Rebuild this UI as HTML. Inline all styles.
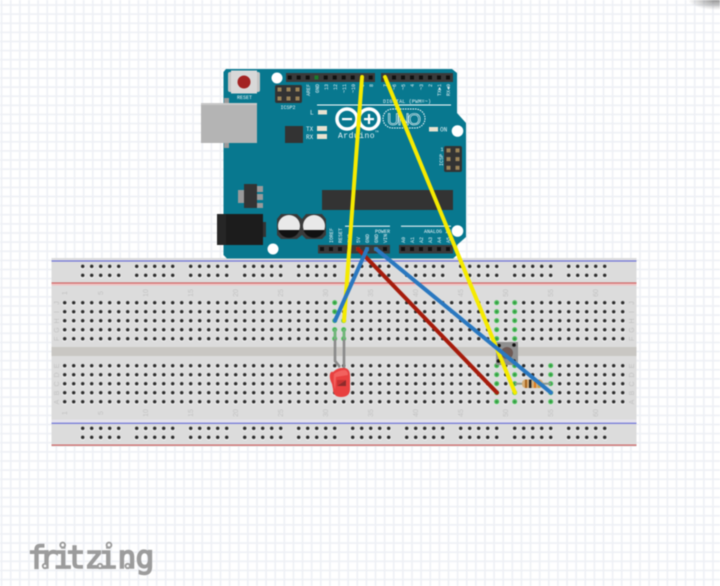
<!DOCTYPE html>
<html>
<head>
<meta charset="utf-8">
<style>
html,body{margin:0;padding:0;background:#fff;width:720px;height:586px;overflow:hidden}
svg{display:block;filter:blur(.4px)}
.p{font:5px "Liberation Mono",monospace;fill:#e8f2f5}
.l{font:6px "Liberation Mono",monospace;fill:#e8f2f5}
.n{font:7px "Liberation Sans",sans-serif;fill:#c2c2c2}
</style>
</head>
<body>
<svg width="720" height="586" viewBox="0 0 720 586" xmlns="http://www.w3.org/2000/svg">
<defs>
<pattern id="grid" patternUnits="userSpaceOnUse" x="1.6" y="5" width="9.12" height="9.12">
<rect x="-0.8" y="0" width="1.6" height="9.12" fill="#eef0f5"/>
<rect x="8.32" y="0" width="1.6" height="9.12" fill="#eef0f5"/>
<rect x="0" y="-0.8" width="9.12" height="1.6" fill="#eef0f5"/>
<rect x="0" y="8.32" width="9.12" height="1.6" fill="#eef0f5"/>
</pattern>
<pattern id="h" patternUnits="userSpaceOnUse" x="60.2" y="298.2" width="9" height="9">
<circle cx="4.5" cy="4.9" r="2.7" fill="#f1f1f1"/>
<circle cx="4.5" cy="4.5" r="1.8" fill="#2a2a2a"/>
</pattern>
<pattern id="g" patternUnits="userSpaceOnUse" x="60.2" y="298.2" width="9" height="9">
<circle cx="4.5" cy="4.5" r="2.5" fill="#46bb55"/>
<circle cx="4.5" cy="4.5" r="1" fill="#2e8a3c"/>
</pattern>
<pattern id="r" patternUnits="userSpaceOnUse" x="78.2" y="261.8" width="54" height="9">
<circle cx="4.5" cy="4.9" r="2.7" fill="#f1f1f1"/><circle cx="13.5" cy="4.9" r="2.7" fill="#f1f1f1"/><circle cx="22.5" cy="4.9" r="2.7" fill="#f1f1f1"/><circle cx="31.5" cy="4.9" r="2.7" fill="#f1f1f1"/><circle cx="40.5" cy="4.9" r="2.7" fill="#f1f1f1"/>
<circle cx="4.5" cy="4.5" r="1.8" fill="#2a2a2a"/><circle cx="13.5" cy="4.5" r="1.8" fill="#2a2a2a"/><circle cx="22.5" cy="4.5" r="1.8" fill="#2a2a2a"/><circle cx="31.5" cy="4.5" r="1.8" fill="#2a2a2a"/><circle cx="40.5" cy="4.5" r="1.8" fill="#2a2a2a"/>
</pattern>
<pattern id="pin" patternUnits="userSpaceOnUse" x="285.2" y="73" width="9" height="9">
<rect x="2.5" y="2.5" width="4" height="4" fill="#111"/>
</pattern>
<pattern id="gold" patternUnits="userSpaceOnUse" x="275" y="85" width="9" height="9">
<rect x="2.5" y="2.5" width="4" height="4" fill="#9b8458"/>
</pattern>
<pattern id="gold2" patternUnits="userSpaceOnUse" x="444" y="146" width="9" height="8.7">
<rect x="2.5" y="2.4" width="4" height="4" fill="#9b8458"/>
</pattern>
<radialGradient id="sh"><stop offset="0" stop-color="#777" stop-opacity=".8"/><stop offset="1" stop-color="#777" stop-opacity="0"/></radialGradient>
</defs>

<rect width="720" height="586" fill="#fff"/>
<rect width="720" height="586" fill="url(#grid)"/>
<ellipse cx="716" cy="0" rx="28" ry="10" fill="url(#sh)"/>

<!-- breadboard -->
<rect x="51.5" y="258" width="585" height="188.5" fill="#dcdcdc"/>
<rect x="51.5" y="283" width="585" height="2.5" fill="#eec4c4"/>
<rect x="51.5" y="419.5" width="585" height="3.5" fill="#e4e2ea"/>
<rect x="51.5" y="347" width="585" height="9" fill="#c9c7c3"/>
<rect x="51.5" y="260.4" width="585" height="1.2" fill="#6d72d8"/>
<rect x="51.5" y="282.4" width="585" height="1.2" fill="#cf6565"/>
<rect x="51.5" y="422.7" width="585" height="1.2" fill="#6d72d8"/>
<rect x="51.5" y="444.5" width="585" height="1.2" fill="#cf6565"/>

<rect x="78.2" y="261.8" width="531" height="18" fill="url(#r)"/>
<rect x="78.2" y="423.8" width="531" height="18" fill="url(#r)"/>
<rect x="60.2" y="298.2" width="567" height="45" fill="url(#h)"/>
<rect x="60.2" y="361.2" width="567" height="45" fill="url(#h)"/>

<!-- green connected holes -->
<rect x="330.2" y="298.2" width="9" height="45" fill="url(#g)"/>
<rect x="339.2" y="316.2" width="9" height="27" fill="url(#g)"/>
<rect x="492.2" y="298.2" width="9" height="45" fill="url(#g)"/>
<rect x="510.2" y="298.2" width="9" height="45" fill="url(#g)"/>
<rect x="492.2" y="361.2" width="9" height="45" fill="url(#g)"/>
<rect x="510.2" y="361.2" width="9" height="45" fill="url(#g)"/>
<rect x="546.2" y="361.2" width="9" height="45" fill="url(#g)"/>

<!-- breadboard labels -->
<g class="n" text-anchor="middle">
<text transform="translate(67,293) rotate(-90)">1</text><text transform="translate(103,293) rotate(-90)">5</text><text transform="translate(148,293) rotate(-90)">10</text><text transform="translate(193,293) rotate(-90)">15</text><text transform="translate(238,293) rotate(-90)">20</text><text transform="translate(283,293) rotate(-90)">25</text><text transform="translate(328,293) rotate(-90)">30</text><text transform="translate(373,293) rotate(-90)">35</text><text transform="translate(418,293) rotate(-90)">40</text><text transform="translate(463,293) rotate(-90)">45</text><text transform="translate(508,293) rotate(-90)">50</text><text transform="translate(553,293) rotate(-90)">55</text><text transform="translate(598,293) rotate(-90)">60</text>
<text transform="translate(67,413) rotate(-90)">1</text><text transform="translate(103,413) rotate(-90)">5</text><text transform="translate(148,413) rotate(-90)">10</text><text transform="translate(193,413) rotate(-90)">15</text><text transform="translate(238,413) rotate(-90)">20</text><text transform="translate(283,413) rotate(-90)">25</text><text transform="translate(328,413) rotate(-90)">30</text><text transform="translate(373,413) rotate(-90)">35</text><text transform="translate(418,413) rotate(-90)">40</text><text transform="translate(463,413) rotate(-90)">45</text><text transform="translate(508,413) rotate(-90)">50</text><text transform="translate(553,413) rotate(-90)">55</text><text transform="translate(598,413) rotate(-90)">60</text>
<text transform="translate(59,303) rotate(-90)">J</text><text transform="translate(59,312) rotate(-90)">I</text><text transform="translate(59,321) rotate(-90)">H</text><text transform="translate(59,330) rotate(-90)">G</text><text transform="translate(59,339) rotate(-90)">F</text>
<text transform="translate(59,366) rotate(-90)">E</text><text transform="translate(59,375) rotate(-90)">D</text><text transform="translate(59,384) rotate(-90)">C</text><text transform="translate(59,393) rotate(-90)">B</text><text transform="translate(59,402) rotate(-90)">A</text>
<text transform="translate(634,303) rotate(-90)">J</text><text transform="translate(634,312) rotate(-90)">I</text><text transform="translate(634,321) rotate(-90)">H</text><text transform="translate(634,330) rotate(-90)">G</text><text transform="translate(634,339) rotate(-90)">F</text>
<text transform="translate(634,366) rotate(-90)">E</text><text transform="translate(634,375) rotate(-90)">D</text><text transform="translate(634,384) rotate(-90)">C</text><text transform="translate(634,393) rotate(-90)">B</text><text transform="translate(634,402) rotate(-90)">A</text>
</g>

<!-- arduino -->
<path d="M226,69 L452,69 L457,73 L457,113 L466,123 L466,237 L457,245 L457,255 L453,258.5 L227,258.5 L223.5,255 L223.5,72 Z" fill="#08788f"/>
<!-- usb -->
<rect x="224" y="98" width="5" height="50" fill="#9a9a9a"/>
<rect x="201" y="103" width="56" height="40" fill="#b4b4b4"/>
<rect x="201" y="103" width="56" height="2" fill="#c8c8c8"/>
<!-- reset -->
<rect x="228" y="72" width="32" height="20" rx="2" fill="#c4c4c4"/>
<rect x="231" y="70.5" width="26" height="23" fill="#d8d8d8"/>
<circle cx="244" cy="82" r="6.5" fill="#a32222"/>
<text x="244.5" y="99" text-anchor="middle" class="p">RESET</text>
<!-- holes -->
<circle cx="277" cy="78" r="5.5" fill="#fff"/>
<circle cx="457.5" cy="131" r="5.8" fill="#fff"/>
<circle cx="457.5" cy="231" r="5.8" fill="#fff"/>
<circle cx="273" cy="249" r="5.5" fill="#fff"/>
<!-- headers -->
<rect x="286" y="73" width="89" height="9" fill="#3a3a3a"/>
<rect x="286" y="73" width="89" height="9" fill="url(#pin)"/>
<rect x="314.5" y="75.5" width="4" height="4" fill="#1c7a2e"/>
<rect x="381" y="73" width="72" height="9" fill="#3a3a3a"/>
<rect x="383" y="75.5" width="4" height="4" fill="#111"/><rect x="392" y="75.5" width="4" height="4" fill="#111"/><rect x="401" y="75.5" width="4" height="4" fill="#111"/><rect x="410" y="75.5" width="4" height="4" fill="#111"/><rect x="419" y="75.5" width="4" height="4" fill="#111"/><rect x="428" y="75.5" width="4" height="4" fill="#111"/><rect x="437" y="75.5" width="4" height="4" fill="#111"/><rect x="446" y="75.5" width="4" height="4" fill="#111"/>
<rect x="318" y="245" width="72" height="8.5" fill="#3a3a3a"/>
<rect x="399" y="245" width="54" height="8.5" fill="#3a3a3a"/>
<g fill="#111">
<rect x="320" y="247" width="4" height="4"/><rect x="329" y="247" width="4" height="4"/><rect x="338" y="247" width="4" height="4"/><rect x="347" y="247" width="4" height="4"/><rect x="383" y="247" width="4" height="4"/>
<rect x="401" y="247" width="4" height="4"/><rect x="410" y="247" width="4" height="4"/><rect x="419" y="247" width="4" height="4"/><rect x="428" y="247" width="4" height="4"/><rect x="437" y="247" width="4" height="4"/><rect x="446" y="247" width="4" height="4"/>
</g>
<rect x="356" y="247" width="4" height="4" fill="#8a5a10"/>
<rect x="365" y="247" width="4" height="4" fill="#1f8a70"/>
<rect x="374" y="247" width="4" height="4" fill="#1f8a70"/>
<!-- ICSP -->
<rect x="275" y="85" width="27" height="18" rx="2" fill="#333"/>
<rect x="275" y="85" width="27" height="18" fill="url(#gold)"/>
<text x="288" y="109" text-anchor="middle" class="p">ICSP2</text>
<rect x="444" y="146" width="18" height="26" rx="2" fill="#333"/>
<rect x="444" y="146" width="18" height="26" fill="url(#gold2)"/>
<text x="442" y="151" text-anchor="middle" class="p">1</text>
<text transform="translate(443,160) rotate(-90)" text-anchor="middle" class="p">ICSP</text>
<!-- small chip & leds -->
<rect x="285" y="126" width="18" height="17" fill="#333"/>
<rect x="318" y="110" width="9" height="4.5" fill="#e8e2cf"/>
<rect x="317" y="126" width="10" height="5" fill="#e8e2cf"/>
<rect x="317" y="134" width="10" height="5" fill="#e8e2cf"/>
<rect x="429" y="127" width="9" height="4.5" fill="#e8e2cf"/>
<text x="310" y="114.5" class="l">L</text>
<text x="306" y="131" class="l">TX</text>
<text x="306" y="139" class="l">RX</text>
<text x="440" y="131.5" class="l">ON</text>
<!-- logo -->
<rect x="317" y="104.5" width="134" height="1" fill="#fff"/>
<text x="383" y="103" class="p" textLength="48">DIGITAL (PWM=~)</text>
<circle cx="347" cy="119" r="10" fill="none" stroke="#fff" stroke-width="3.5"/>
<circle cx="369" cy="119" r="10" fill="none" stroke="#fff" stroke-width="3.5"/>
<rect x="342" y="118" width="10" height="2.2" fill="#fff"/>
<rect x="364" y="118" width="10" height="2.2" fill="#fff"/>
<rect x="367.9" y="114" width="2.2" height="10" fill="#fff"/>
<rect x="383" y="109" width="42" height="19" rx="9.5" fill="none" stroke="#fff" stroke-width="1" stroke-dasharray="1.5 1"/>
<text x="404" y="125" text-anchor="middle" style="font:17px 'Liberation Sans',sans-serif;fill:none;stroke:#fff;stroke-width:.6" textLength="34">UNO</text>
<text x="338" y="138" class="l" style="font-size:8px;letter-spacing:.5px">Arduino</text>
<text x="375" y="132.5" class="p" style="font-size:3px">TM</text>
<!-- big chip -->
<rect x="322" y="190" width="131" height="20" fill="#333"/>
<!-- regulator -->
<rect x="238" y="190" width="6" height="13" fill="#9a9a9a"/>
<rect x="257" y="186" width="6" height="6" fill="#9a9a9a"/>
<rect x="257" y="194" width="6" height="6" fill="#9a9a9a"/>
<rect x="257" y="203" width="6" height="5" fill="#9a9a9a"/>
<rect x="244" y="184" width="13" height="24" fill="#333"/>
<!-- jack -->
<rect x="217" y="214" width="46" height="31" fill="#1c1c1c"/>
<rect x="217" y="214" width="9" height="31" fill="#262626"/>
<rect x="263" y="222" width="3" height="15" fill="#333"/>
<!-- caps -->
<path d="M281,214 L297,214 L302,219 L302,235 L297,239 L281,239 L277,235 L277,219 Z" fill="#3a3a3a"/>
<path d="M306,214 L322,214 L326,219 L326,235 L322,239 L306,239 L302,235 L302,219 Z" fill="#3a3a3a"/>
<circle cx="289" cy="226" r="11" fill="#e9e9e9"/>
<circle cx="314" cy="226" r="11" fill="#e9e9e9"/>
<path d="M278.5,230 A11,11 0 0 0 299.5,230 Z" fill="#111"/>
<path d="M303.5,230 A11,11 0 0 0 324.5,230 Z" fill="#111"/>
<!-- section lines -->
<rect x="345" y="225.7" width="45" height="1" fill="#fff"/>
<rect x="401" y="225.7" width="50" height="1" fill="#fff"/>
<text x="390" y="233" text-anchor="end" class="p">POWER</text>
<text x="451" y="233" text-anchor="end" class="p">ANALOG IN</text>
<!-- pin labels top -->
<g class="p" text-anchor="end">
<text transform="translate(310,84) rotate(-90)">AREF</text><text transform="translate(319,84) rotate(-90)">GND</text><text transform="translate(328,84) rotate(-90)">13</text><text transform="translate(337,84) rotate(-90)">12</text><text transform="translate(346,84) rotate(-90)">~11</text><text transform="translate(355,84) rotate(-90)">~10</text><text transform="translate(364,84) rotate(-90)">~9</text><text transform="translate(373,84) rotate(-90)">8</text>
<text transform="translate(387,84) rotate(-90)">7</text><text transform="translate(396,84) rotate(-90)">~6</text><text transform="translate(405,84) rotate(-90)">~5</text><text transform="translate(414,84) rotate(-90)">4</text><text transform="translate(423,84) rotate(-90)">~3</text><text transform="translate(432,84) rotate(-90)">2</text><text transform="translate(441,84) rotate(-90)">TX►1</text><text transform="translate(450,84) rotate(-90)">RX◄0</text>
</g>
<g class="p">
<text transform="translate(333,243) rotate(-90)">IOREF</text><text transform="translate(342,243) rotate(-90)">RESET</text><text transform="translate(351,243) rotate(-90)">3V3</text><text transform="translate(360,243) rotate(-90)">5V</text><text transform="translate(369,243) rotate(-90)">GND</text><text transform="translate(378,243) rotate(-90)">GND</text><text transform="translate(387,243) rotate(-90)">VIN</text>
<text transform="translate(405,243) rotate(-90)">A0</text><text transform="translate(414,243) rotate(-90)">A1</text><text transform="translate(423,243) rotate(-90)">A2</text><text transform="translate(432,243) rotate(-90)">A3</text><text transform="translate(441,243) rotate(-90)">A4</text><text transform="translate(450,243) rotate(-90)">A5</text>
</g>

<!-- LED -->
<path d="M335,330 L335,361 L340,367" fill="none" stroke="#8a8a8a" stroke-width="2.6"/>
<path d="M344,330 L344,369" fill="none" stroke="#8a8a8a" stroke-width="2.6"/>
<path d="M335,329 L335,339 M344,329 L344,339" stroke="#6fb878" stroke-width="2.6"/>
<path d="M333,372 Q338,367 345,368 Q350,369 350,376 L350,389 Q350,397 341,397 Q333,397 333,389 L332,384 Q329,378 330,374 Q331,371 333,372 Z" fill="#e8403f"/>
<path d="M334,374 Q339,370 345,370 Q348,371 348,375 L336,377 L335,390 Q333,382 334,374 Z" fill="#f2625f"/>
<path d="M337,386 L346,380 L346,386 Z" fill="#8e2b2b"/>
<path d="M337,380 L346,380 L337,386 Z" fill="#c83232"/>

<!-- switch -->
<rect x="496" y="342" width="22" height="23" fill="#8f8f8f"/>
<circle cx="507" cy="353" r="6" fill="#6e5a55"/>
<circle cx="499" cy="345.5" r="1.8" fill="#111"/><circle cx="514" cy="345" r="1.8" fill="#111"/><circle cx="498.5" cy="361" r="1.8" fill="#111"/><circle cx="514" cy="361" r="1.8" fill="#111"/>

<!-- resistor -->
<path d="M515,383.7 L551,383.7" stroke="#8e9a8e" stroke-width="2"/>
<rect x="522" y="379.5" width="21" height="8.5" rx="3.5" fill="#d5ae78"/>
<rect x="525" y="379.5" width="2" height="8.5" fill="#a8641c"/>
<rect x="529" y="379.5" width="2.4" height="8.5" fill="#222"/>
<rect x="534" y="379.5" width="2" height="8.5" fill="#dd7a1e"/>
<rect x="538" y="379.5" width="2" height="8.5" fill="#c9a24a"/>

<!-- wires -->
<g fill="none" stroke-linecap="round">
<path d="M358,249 L497,392.7" stroke="#a61c0c" stroke-width="4"/>
<path d="M362,77 L344,320.7" stroke="#f5ea00" stroke-width="4"/>
<path d="M385,77 L515,392.7" stroke="#f5ea00" stroke-width="4"/>
<path d="M367,249 L335,320.7" stroke="#2a78c0" stroke-width="4"/>
<path d="M376,249 L551,392.7" stroke="#2a78c0" stroke-width="4"/>
</g>

<!-- fritzing logo -->
<text x="37 49 63 76 94 108 127 145" y="568" text-anchor="middle" style="font:31px 'DejaVu Sans Mono',monospace;fill:#9c9c9c;stroke:#9c9c9c;stroke-width:1.5">fritzing</text>
<g fill="#fff" stroke="#9c9c9c" stroke-width="1.9">
<circle cx="62.7" cy="545" r="2.4"/><circle cx="109" cy="545" r="2.4"/>
<circle cx="45" cy="566" r="2.2"/><circle cx="100" cy="566" r="2.2"/><circle cx="127.7" cy="566" r="2.2"/>
</g>
</svg>
</body>
</html>
